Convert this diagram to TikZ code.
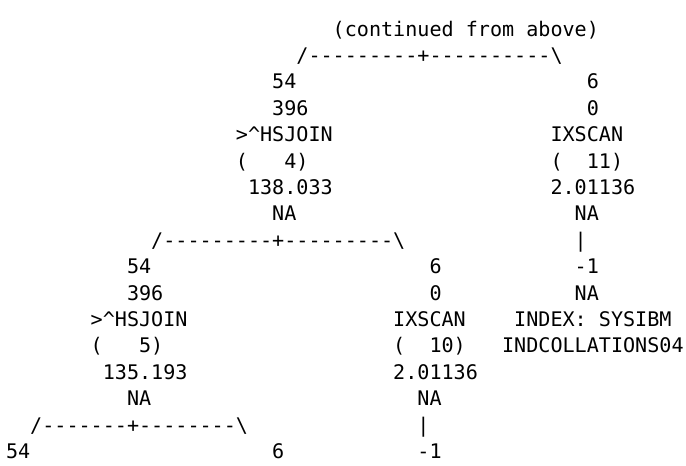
\documentclass[tikz,border=0pt]{standalone}
\usepackage{fontspec}
\setmonofont{DejaVu Sans Mono}
\begin{document}
\begin{tikzpicture}[
        x=6.05pt, y=-13.2pt,
        every node/.style={
            font=\ttfamily\fontsize{10.05pt}{12pt}\selectfont,
            anchor=base west,
            inner sep=0pt,
            outer sep=0pt
        }
    ]
        \fill[white] (-3pt,18pt) rectangle (340pt,-215pt);
        \useasboundingbox (-3pt,18pt) rectangle (340pt,-215pt);

        \node (cont) at (27,0) {(continued from above)};
        \node (forktop) at (24,1) {/---------+----------\textbackslash};

        % hash join 4 and index scan 11
        \node (rows4) at (22,2) {54};
        \node (sec4) at (22,3) {396};
        \node (op4) at (19,4) {>\textasciicircum HSJOIN};
        \node (id4) at (19,5) {(~~~4)};
        \node (cost4) at (20,6) {138.033};
        \node (io4) at (22,7) {NA};

        \node (rows11) at (48,2) {6};
        \node (sec11) at (48,3) {0};
        \node (op11) at (45,4) {IXSCAN};
        \node (id11) at (45,5) {(~~11)};
        \node (cost11) at (45,6) {2.01136};
        \node (io11) at (47,7) {NA};
        \node (bar11) at (47,8) {|};
        \node (rowsix11) at (47,9) {-1};
        \node (ioix11) at (47,10) {NA};
        \node (ixname11) at (42,11) {INDEX: SYSIBM};
        \node (ixtab11) at (41,12) {INDCOLLATIONS04};

        \node (fork4) at (12,8) {/---------+---------\textbackslash};

        % hash join 5 and index scan 10
        \node (rows5) at (10,9) {54};
        \node (sec5) at (10,10) {396};
        \node (op5) at (7,11) {>\textasciicircum HSJOIN};
        \node (id5) at (7,12) {(~~~5)};
        \node (cost5) at (8,13) {135.193};
        \node (io5) at (10,14) {NA};

        \node (rows10) at (35,9) {6};
        \node (sec10) at (35,10) {0};
        \node (op10) at (32,11) {IXSCAN};
        \node (id10) at (32,12) {(~~10)};
        \node (cost10) at (32,13) {2.01136};
        \node (io10) at (34,14) {NA};
        \node (bar10) at (34,15) {|};
        \node (rowsix10) at (34,16) {-1};

        \node (fork5) at (2,15) {/-------+--------\textbackslash};
        \node (rowsl) at (0,16) {54};
        \node (rowsr) at (22,16) {6};
\end{tikzpicture}
\end{document}
